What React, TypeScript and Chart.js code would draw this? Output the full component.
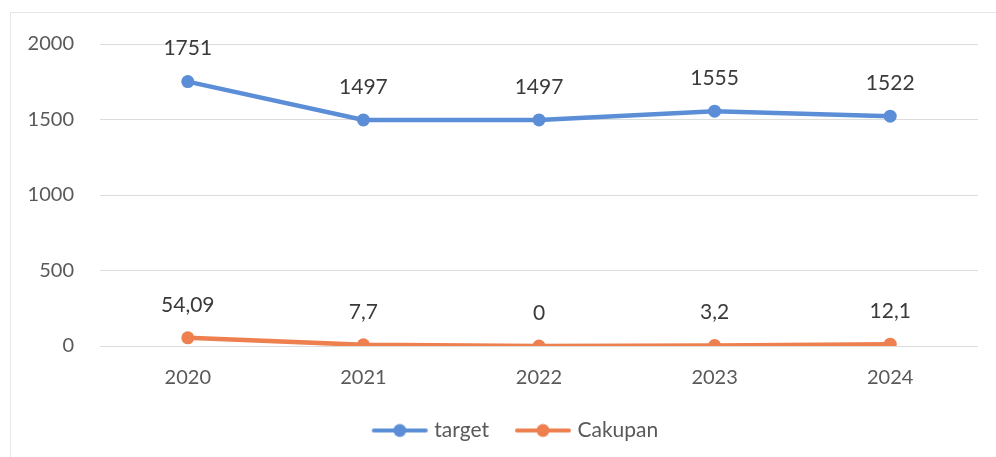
import React, { useEffect, useRef } from "react";
import { Chart, registerables } from "chart.js";

Chart.register(...registerables);

const years = ["2020", "2021", "2022", "2023", "2024"];
const targetValues = [1751, 1497, 1497, 1555, 1522];
const cakupanValues = [54.09, 7.7, 0, 3.2, 12.1];
const cakupanLabels = ["54,09", "7,7", "0", "3,2", "12,1"];
const targetLabels = ["1751", "1497", "1497", "1555", "1522"];
const yTicks = [0, 500, 1000, 1500, 2000];

const BLUE = "#5B8ED6";
const ORANGE = "#EE7F4E";
const FONT = "Lato, 'Open Sans', sans-serif";

function legendIcon(color: string) {
  const c = document.createElement("canvas");
  c.width = 58;
  c.height = 16;
  const ctx = c.getContext("2d")!;
  ctx.strokeStyle = color;
  ctx.lineWidth = 4;
  ctx.lineCap = "round";
  ctx.beginPath();
  ctx.moveTo(3, 8);
  ctx.lineTo(55, 8);
  ctx.stroke();
  ctx.fillStyle = color;
  ctx.beginPath();
  ctx.arc(29, 8, 6.5, 0, Math.PI * 2);
  ctx.fill();
  return c;
}

const dataLabelPlugin = {
  id: "dataLabels",
  afterLayout(chart: any) {
    const lg = chart.legend;
    if (lg) {
      lg.left += 28;
      lg.right += 28;
      lg.top -= 6;
      lg.bottom -= 6;
    }
  },
  afterDatasetsDraw(chart: any) {
    const ctx = chart.ctx;
    ctx.save();
    ctx.font = `21px ${FONT}`;
    ctx.fillStyle = "#3A3A3A";
    ctx.textAlign = "center";
    ctx.textBaseline = "middle";
    chart.data.datasets.forEach((ds: any, i: number) => {
      const meta = chart.getDatasetMeta(i);
      const labels = i === 0 ? targetLabels : cakupanLabels;
      meta.data.forEach((pt: any, j: number) => {
        ctx.fillText(labels[j], pt.x, pt.y - 33);
      });
    });
    ctx.restore();
  },
};

export default function App() {
  const ref = useRef<HTMLCanvasElement>(null);
  useEffect(() => {
    const chart = new Chart(ref.current!, {
      type: "line",
      data: {
        labels: years,
        datasets: [
          {
            label: "target",
            data: targetValues,
            borderColor: BLUE,
            backgroundColor: BLUE,
            borderWidth: 4.5,
            pointRadius: 6.5,
            pointBackgroundColor: BLUE,
            pointBorderWidth: 0,
            pointStyle: "circle",
          },
          {
            label: "Cakupan",
            data: cakupanValues,
            borderColor: ORANGE,
            backgroundColor: ORANGE,
            borderWidth: 4.5,
            pointRadius: 6.5,
            pointBackgroundColor: ORANGE,
            pointBorderWidth: 0,
            pointStyle: "circle",
          },
        ],
      },
      options: {
        animation: false,
        responsive: false,
        layout: { padding: { top: 44, right: 18, left: 0, bottom: 0 } },
        plugins: {
          tooltip: { enabled: false },
          legend: {
            position: "bottom",
            labels: {
              usePointStyle: true,
              pointStyleWidth: 48,
              boxHeight: 16,
              color: "#595959",
              font: { family: FONT, size: 21 },
              padding: 30,
              generateLabels: (chart: any) =>
                chart.data.datasets.map((ds: any, i: number) => ({
                  text: ds.label,
                  pointStyle: legendIcon(ds.borderColor),
                  fillStyle: ds.borderColor,
                  strokeStyle: ds.borderColor,
                  lineWidth: 0,
                  hidden: false,
                  datasetIndex: i,
                  fontColor: "#595959",
                })),
            },
          },
        },
        scales: {
          x: {
            offset: true,
            grid: { display: false, drawTicks: false },
            border: { display: false },
            afterFit: (s: any) => {
              s.height -= 14;
            },
            ticks: {
              color: "#595959",
              font: { family: FONT, size: 20 },
              padding: 20,
            },
          },
          y: {
            min: 0,
            max: 2000,
            afterFit: (s: any) => {
              s.width = 100;
            },
            afterBuildTicks: (s: any) => {
              s.ticks = yTicks.map((v) => ({ value: v }));
            },
            grid: { color: "#DCDCDC", lineWidth: 1, drawTicks: false },
            border: { display: false },
            ticks: {
              color: "#595959",
              font: { family: FONT, size: 20 },
              padding: 26,
              callback: (v: any) => String(v),
            },
          },
        },
      },
      plugins: [dataLabelPlugin],
    } as any);
    return () => chart.destroy();
  }, []);
  return (
    <div
      style={{
        position: "fixed",
        left: 0,
        top: 0,
        width: 996,
        height: 457,
        background: "#fff",
      }}
    >
      <div
        style={{
          position: "absolute",
          left: 10,
          top: 12,
          right: 0,
          bottom: 0,
          borderLeft: "1px solid #E6E6E6",
          borderTop: "1px solid #E6E6E6",
        }}
      />
      <canvas
        ref={ref}
        width={996}
        height={457}
        style={{ position: "absolute", left: 0, top: 0 }}
      />
    </div>
  );
}
